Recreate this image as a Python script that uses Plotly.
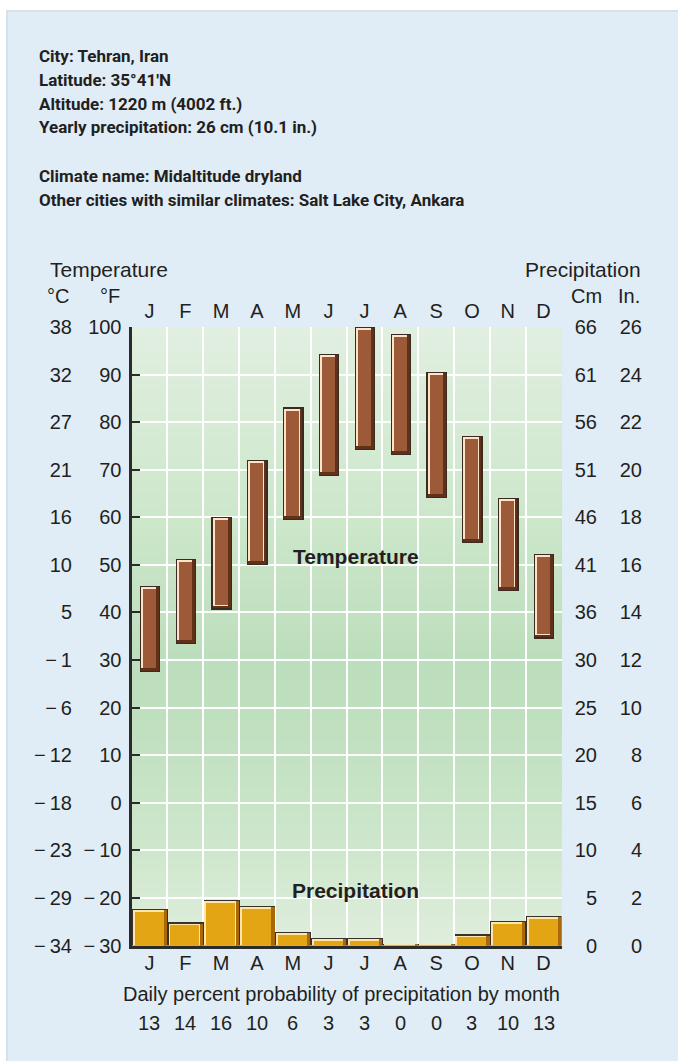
import plotly.graph_objects as go

# ---- data -------------------------------------------------------------
months = ["J", "F", "M", "A", "M", "J", "J", "A", "S", "O", "N", "D"]
temp_high_f = [45.5, 51.3, 60.1, 72.0, 83.1, 94.4, 100.0, 98.5, 90.5, 77.1, 64.1, 52.3]
temp_low_f = [27.5, 33.3, 40.6, 50.0, 59.4, 68.7, 74.2, 73.1, 64.0, 54.6, 44.5, 34.5]
precip_in = [1.55, 0.97, 1.93, 1.68, 0.58, 0.33, 0.33, 0.08, 0.08, 0.47, 1.02, 1.25]
rain_prob = [13, 14, 16, 10, 6, 3, 3, 0, 0, 3, 10, 13]

f_ticks = [-30, -20, -10, 0, 10, 20, 30, 40, 50, 60, 70, 80, 90, 100]
f_labels = ["\u2212\u200930", "\u2212\u200920", "\u2212\u200910", "0", "10", "20", "30",
            "40", "50", "60", "70", "80", "90", "100"]
c_labels = ["\u2212\u200934", "\u2212\u200929", "\u2212\u200923", "\u2212\u200918",
            "\u2212\u200912", "\u2212\u20096", "\u2212\u20091", "5", "10", "16", "21",
            "27", "32", "38"]
in_ticks = [0, 2, 4, 6, 8, 10, 12, 14, 16, 18, 20, 22, 24, 26]
cm_labels = ["0", "5", "10", "15", "20", "25", "30", "36", "41", "46", "51", "56", "61", "66"]

header_lines = [
    "City: Tehran, Iran",
    "Latitude: 35\u00b041\u2032N",
    "Altitude: 1220 m (4002 ft.)",
    "Yearly precipitation: 26 cm (10.1 in.)",
    "Climate name: Midaltitude dryland",
    "Other cities with similar climates: Salt Lake City, Ankara",
]

# ---- page geometry (pixels) --------------------------------------------
W, H = 678, 1061
L, R, T, B = 131.5, 561.5, 327.0, 945.5
F_MIN, F_MAX = -30, 100
IN_MAX = 26

def fx(x):
    return x / W

def fy(y):
    return 1 - y / H

xi = list(range(len(months)))
col_px = (R - L) / len(months)
px_per_f = (B - T) / (F_MAX - F_MIN)
px_per_in = (B - T) / IN_MAX

INK = "#231f20"
FONT = "Liberation Sans, Arial, sans-serif"
HEAD_FONT = "Roboto, Liberation Sans, Arial, sans-serif"

fig = go.Figure()

def bevel_bars(lows, highs, width_px, layers, yaxis, unit_px):
    """Stacked overlay bars that give each bar a bevelled edge."""
    for (il, it, ir, ib, color) in layers:
        bases = [lo + ib / unit_px for lo in lows]
        heights = [max(hi - it / unit_px - b, 0) for hi, b in zip(highs, bases)]
        fig.add_trace(go.Bar(
            x=xi, y=heights, base=bases,
            width=(width_px - il - ir) / col_px,
            offset=(-width_px / 2 + il) / col_px,
            marker=dict(color=color, line=dict(width=0)),
            yaxis=yaxis, hoverinfo="skip", showlegend=False,
        ))

# temperature range bars (deg F)
bevel_bars(temp_low_f, temp_high_f, 20.5, [
    (0, 0, 0, 0, "#3b2a22"),
    (1.2, 1.2, 1.2, 1.2, "#5e3118"),
    (1.2, 1.2, 4.0, 4.0, "#fde4c8"),
    (3.2, 3.2, 4.2, 4.2, "#9c5a38"),
], "y", px_per_f)

# precipitation bars (inches)
bevel_bars([0] * 12, precip_in, col_px, [
    (0, 0, 0, 0, "#3a3228"),
    (0.8, 1.2, 0.8, 0, "#a9690b"),
    (0.8, 1.2, 4.0, 0, "#fde6ae"),
    (2.6, 3.0, 4.2, 0, "#e3a514"),
], "y4", px_per_in)

# invisible traces so the extra label axes are drawn
for xa, ya in [("x2", "y"), ("x3", "y"), ("x", "y2"), ("x", "y3")]:
    fig.add_trace(go.Scatter(x=[0], y=[0], xaxis=xa, yaxis=ya, mode="markers",
                             marker=dict(opacity=0), hoverinfo="skip", showlegend=False))

# ---- backgrounds -------------------------------------------------------
shapes = [
    dict(type="rect", xref="paper", yref="paper", x0=fx(6), x1=1, y0=0, y1=fy(10),
         fillcolor="#d9e1e8", line=dict(width=0), layer="below"),
    dict(type="rect", xref="paper", yref="paper", x0=fx(8), x1=1, y0=0, y1=fy(12),
         fillcolor="#e0edf7", line=dict(width=0), layer="below"),
]

# green vertical gradient of the plotting area
stops = [(-30, (224, 238, 221)), (-10, (206, 231, 204)), (15, (192, 224, 192)),
         (30, (188, 222, 188)), (60, (205, 231, 203)), (100, (225, 239, 224))]

def grad(v):
    for (a, ca), (b, cb) in zip(stops[:-1], stops[1:]):
        if a <= v <= b:
            t = (v - a) / (b - a)
            return "rgb(%d,%d,%d)" % tuple(round(ca[k] + (cb[k] - ca[k]) * t) for k in range(3))
    return "rgb(%d,%d,%d)" % stops[-1][1]

v = F_MIN
while v < F_MAX:
    shapes.append(dict(type="rect", xref="x", yref="y", x0=-0.5, x1=11.5, y0=v, y1=F_MAX,
                       fillcolor=grad(v + 0.5), line=dict(width=0), layer="below"))
    v += 1

# ---- text --------------------------------------------------------------
ann = []
baselines = [62.3, 86.0, 110.0, 133.3, 182.7, 206.7]
for line, bl in zip(header_lines, baselines):
    ann.append(dict(text="<b>%s</b>" % line, x=fx(37), y=fy(bl - 6.3), xref="paper", yref="paper",
                    xanchor="left", yanchor="middle", showarrow=False,
                    font=dict(family=HEAD_FONT, size=17, color=INK)))

def label(text, xc, yc, size=20, bold=False, anchor="center"):
    ann.append(dict(text="<b>%s</b>" % text if bold else text, x=fx(xc), y=fy(yc),
                    xref="paper", yref="paper", xanchor=anchor, yanchor="middle",
                    showarrow=False, font=dict(family=FONT, size=size, color=INK)))

label("Temperature", 48, 269, size=21, anchor="left")
label("Precipitation", 643, 269, size=21, anchor="right")
label("\u00b0C", 71, 296, anchor="right")
label("\u00b0F", 122, 296, anchor="right")
label("Cm", 604, 296, anchor="right")
label("In.", 642, 296, anchor="right")
label("Temperature", 355.5, 556, size=21, bold=True)
label("Precipitation", 355, 890, size=21, bold=True)
label("Daily percent probability of precipitation by month", 341, 994)

for i, p in zip(xi, rain_prob):
    ann.append(dict(text=str(p), x=i, y=fy(1022.5), xref="x", yref="paper",
                    xanchor="center", yanchor="middle", showarrow=False,
                    font=dict(family=FONT, size=20, color=INK)))

# ---- axes --------------------------------------------------------------
tick_font = dict(family=FONT, size=20, color=INK)
xdom = [fx(L), fx(R)]
ydom = [fy(B), fy(T)]

fig.update_layout(
    template="none",
    width=W, height=H, autosize=False, margin=dict(l=0, r=0, t=0, b=0, pad=0),
    paper_bgcolor="white", plot_bgcolor="rgba(0,0,0,0)",
    font=dict(family=FONT, color=INK),
    barmode="overlay", bargap=0, showlegend=False, hovermode=False,
    shapes=shapes, annotations=ann,
    xaxis=dict(domain=xdom, range=[-0.5, 11.5], tickmode="array", tickvals=xi,
               showticklabels=False, showgrid=False, zeroline=False, ticks="",
               showline=True, linewidth=3, linecolor="#2b2b2b",
               anchor="y", automargin=False,
               minor=dict(tick0=0.5, dtick=1, showgrid=True, gridcolor="white",
                          gridwidth=1.8, ticks="")),
    xaxis2=dict(overlaying="x", side="top", range=[-0.5, 11.5], tickmode="array",
                tickvals=xi, ticktext=months, showgrid=False, zeroline=False, ticks="",
                showline=False, tickfont=tick_font, anchor="y", ticklabelstandoff=4,
                automargin=False),
    xaxis3=dict(overlaying="x", side="bottom", anchor="free", position=fy(949),
                range=[-0.5, 11.5], tickmode="array", tickvals=xi, ticktext=months,
                showgrid=False, zeroline=False, ticks="", showline=False,
                tickfont=tick_font, automargin=False),
    yaxis=dict(domain=ydom, range=[F_MIN, F_MAX], tickmode="array", tickvals=f_ticks,
               ticktext=f_labels, showgrid=False, zeroline=False, ticks="inside",
               ticklen=8, tickwidth=1.5, tickcolor="#2b2b2b", showline=True,
               linewidth=3, linecolor="#2b2b2b", tickfont=tick_font,
               ticklabelstandoff=3, anchor="x", automargin=False,
               minor=dict(tickmode="array", tickvals=f_ticks[1:-1], showgrid=True,
                          gridcolor="white", gridwidth=1.8, ticks="")),
    yaxis2=dict(overlaying="y", anchor="free", position=fx(72), side="left",
                range=[F_MIN, F_MAX], tickmode="array", tickvals=f_ticks, ticktext=c_labels,
                showgrid=False, zeroline=False, ticks="", showline=False, tickfont=tick_font,
                automargin=False),
    yaxis3=dict(overlaying="y", anchor="free", position=fx(597), side="left",
                range=[0, IN_MAX], tickmode="array", tickvals=in_ticks, ticktext=cm_labels,
                showgrid=False, zeroline=False, ticks="", showline=False, tickfont=tick_font,
                automargin=False),
    yaxis4=dict(overlaying="y", anchor="free", position=fx(642), side="left",
                range=[0, IN_MAX], tickmode="array", tickvals=in_ticks,
                ticktext=[str(t) for t in in_ticks],
                showgrid=False, zeroline=False, ticks="", showline=False, tickfont=tick_font,
                automargin=False),
)

fig.write_html("out.html")
